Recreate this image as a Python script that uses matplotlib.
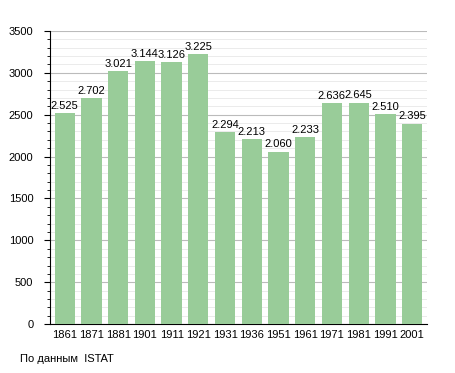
import matplotlib.pyplot as plt
from matplotlib.ticker import MultipleLocator

plt.rcParams['font.family'] = ['Liberation Sans', 'DejaVu Sans']

years = ['1861', '1871', '1881', '1901', '1911', '1921', '1931', '1936',
         '1951', '1961', '1971', '1981', '1991', '2001']
population = [2525, 2702, 3021, 3144, 3126, 3225, 2294, 2213,
              2060, 2233, 2636, 2645, 2510, 2395]

fig = plt.figure(figsize=(4.55, 3.73), dpi=100)
ax = fig.add_axes([0.110, 0.131, 0.828, 0.786])

x = range(len(years))
ax.bar(x, population, width=0.76, color='#99cc99', zorder=3)
for i, v in zip(x, population):
    label = f'{v:,}'.replace(',', '.')
    ax.text(i, v + 25, label, ha='center', va='bottom', fontsize=8, zorder=4)

ax.set_xlim(-0.55, len(years) - 0.45)
ax.set_ylim(0, 3500)
ax.set_xticks(list(x))
ax.set_xticklabels(years, fontsize=8)
ax.yaxis.set_major_locator(MultipleLocator(500))
ax.yaxis.set_minor_locator(MultipleLocator(100))
ax.tick_params(axis='y', labelsize=8, length=4, pad=8)
ax.tick_params(axis='y', which='minor', length=2)
ax.tick_params(axis='x', length=0, pad=4)
ax.grid(True, which='major', axis='y', color='#bbbbbb', linewidth=0.8, zorder=0)
ax.grid(True, which='minor', axis='y', color='#e8e8e8', linewidth=0.6, zorder=0)
for s in ['top', 'right']:
    ax.spines[s].set_visible(False)

fig.text(0.044, 0.03, 'По данным  ISTAT', fontsize=8)

plt.savefig('out.png', dpi=100)
